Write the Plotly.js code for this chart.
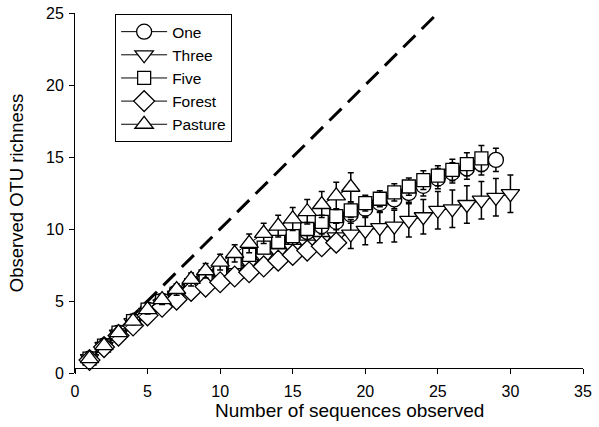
<!DOCTYPE html>
<html>
<head>
<meta charset="utf-8">
<script src="https://cdn.plot.ly/plotly-3.0.1.min.js"></script>
<style>html,body{margin:0;padding:0;background:#fff;}#chart{width:599px;height:427px;}</style>
</head>
<body>
<div id="chart"></div>
<script>
// ---- data ----
const seriesNames = ["One", "Three", "Five", "Forest", "Pasture"];

const oneX = [1,2,3,4,5,6,7,8,9,10,11,12,13,14,15,16,17,18,19,20,21,22,23,24,25,26,27,28,29];
const oneY = [1.0,1.9,2.8,3.6,4.4,5.0,5.6,6.1,6.6,7.1,7.6,8.1,8.5,9.0,9.4,9.8,10.2,10.5,11.0,11.4,11.8,12.05,12.5,13.0,13.5,13.9,14.2,14.5,14.8];
const oneErr = [0.05,0.1,0.15,0.2,0.2,0.25,0.3,0.3,0.35,0.35,0.4,0.4,0.45,0.45,0.5,0.5,0.55,0.55,0.6,0.6,0.6,0.65,0.65,0.7,0.7,0.7,0.75,0.75,0.8];

const threeX = [1,2,3,4,5,6,7,8,9,10,11,12,13,14,15,16,17,18,19,20,21,22,23,24,25,26,27,28,29,30];
const threeY = [1.0,1.85,2.7,3.5,4.2,4.8,5.4,5.9,6.4,6.8,7.2,7.6,8.0,8.35,8.65,8.95,9.2,9.45,9.65,9.9,10.1,10.2,10.6,10.85,11.3,11.4,11.7,12.0,12.2,12.45];
const threeErr = [0.05,0.1,0.15,0.2,0.3,0.35,0.4,0.45,0.5,0.55,0.6,0.65,0.7,0.75,0.8,0.85,0.9,0.95,1.0,1.0,1.05,1.1,1.15,1.2,1.3,1.3,1.3,1.3,1.3,1.3];

const fiveX = [1,2,3,4,5,6,7,8,9,10,11,12,13,14,15,16,17,18,19,20,21,22,23,24,25,26,27,28];
const fiveY = [1.0,1.9,2.8,3.6,4.4,5.0,5.5,6.1,6.7,7.2,7.7,8.2,8.7,9.1,9.5,10.0,10.5,10.9,11.3,11.8,12.1,12.55,12.95,13.4,13.7,14.1,14.5,14.9];
const fiveErr = [0.05,0.1,0.1,0.15,0.2,0.2,0.25,0.25,0.3,0.3,0.3,0.35,0.35,0.4,0.4,0.45,0.45,0.5,0.5,0.55,0.55,0.6,0.6,0.65,0.7,0.75,0.8,0.9];

const forestX = [1,2,3,4,5,6,7,8,9,10,11,12,13,14,15,16,17,18];
const forestY = [0.9,1.8,2.6,3.3,4.0,4.6,5.1,5.7,6.0,6.3,6.7,7.0,7.4,7.8,8.2,8.5,8.8,9.05];
const forestErr = [0.05,0.05,0.1,0.1,0.1,0.15,0.15,0.15,0.2,0.2,0.2,0.2,0.25,0.25,0.25,0.3,0.3,0.3];

const pastureX = [1,2,3,4,5,6,7,8,9,10,11,12,13,14,15,16,17,18,19];
const pastureY = [1.0,1.9,2.8,3.6,4.4,5.1,5.8,6.5,7.1,7.7,8.3,9.0,9.7,10.2,10.7,11.2,11.7,12.3,12.9];
const pastureErr = [0.1,0.15,0.2,0.25,0.3,0.35,0.4,0.45,0.5,0.55,0.6,0.65,0.7,0.75,0.8,0.85,0.9,0.95,1.0];

const refLineX = [1, 25];
const refLineY = [1, 25];

const xTicks = [0,5,10,15,20,25,30,35];
const yTicks = [0,5,10,15,20,25];

const xTitle = "Number of sequences observed";
const yTitle = "Observed OTU richness";

// ---- styles ----
const symbols = ["circle", "triangle-down", "square", "diamond", "triangle-up"];
const sizes = [15, 16, 13, 16, 16];
const xs = [oneX, threeX, fiveX, forestX, pastureX];
const ys = [oneY, threeY, fiveY, forestY, pastureY];
const errs = [oneErr, threeErr, fiveErr, forestErr, pastureErr];

const traces = [{
  x: refLineX, y: refLineY, mode: "lines", showlegend: false, hoverinfo: "skip",
  line: {color: "#000", width: 3, dash: "17px,9px"}
}];
for (let i = 0; i < seriesNames.length; i++) {
  traces.push({
    x: xs[i], y: ys[i], name: seriesNames[i], type: "scatter", mode: "lines+markers",
    line: {color: "#000", width: 1},
    marker: {symbol: symbols[i], size: sizes[i], color: "#fff",
             line: {color: "#000", width: 1.3}},
    error_y: {type: "data", array: errs[i], visible: true, color: "#000", thickness: 1.5, width: 3}
  });
}

const font = "Liberation Sans, Arial, Helvetica, sans-serif";
const layout = {
  width: 599, height: 427,
  margin: {l: 75, r: 16, t: 13, b: 54},
  paper_bgcolor: "#fff", plot_bgcolor: "#fff",
  font: {family: font, size: 16, color: "#000"},
  showlegend: true,
  legend: {x: 0.079, y: 0.997, xanchor: "left", yanchor: "top",
           bordercolor: "#000", borderwidth: 1, bgcolor: "#fff",
           font: {family: font, size: 15.5, color: "#000"},
           itemwidth: 46, tracegroupgap: 0, entrywidth: 121, entrywidthmode: "pixels"},
  xaxis: {range: [0, 35], tickvals: xTicks, ticktext: xTicks.map(String),
          anchor: "free", position: 0.014,
          showgrid: false, zeroline: false, showline: true, linecolor: "#000", linewidth: 1,
          ticks: "outside", ticklen: 5, tickcolor: "#000", ticklabelstandoff: 4,
          tickfont: {family: font, size: 16}},
  yaxis: {range: [0, 25], tickvals: yTicks, ticktext: yTicks.map(String),
          showgrid: false, zeroline: false, showline: true, linecolor: "#000", linewidth: 1,
          ticks: "outside", ticklen: 5, tickcolor: "#000", ticklabelstandoff: 2,
          tickfont: {family: font, size: 16},
          title: {text: yTitle, font: {family: font, size: 18.5}, standoff: 17}},
  annotations: [{text: xTitle, xref: "paper", yref: "paper", x: 0.541, y: -0.105,
                 xanchor: "center", yanchor: "middle", showarrow: false,
                 font: {family: font, size: 19, color: "#000"}}]
};

Plotly.newPlot("chart", traces, layout, {displayModeBar: false, staticPlot: true});
</script>
</body>
</html>
